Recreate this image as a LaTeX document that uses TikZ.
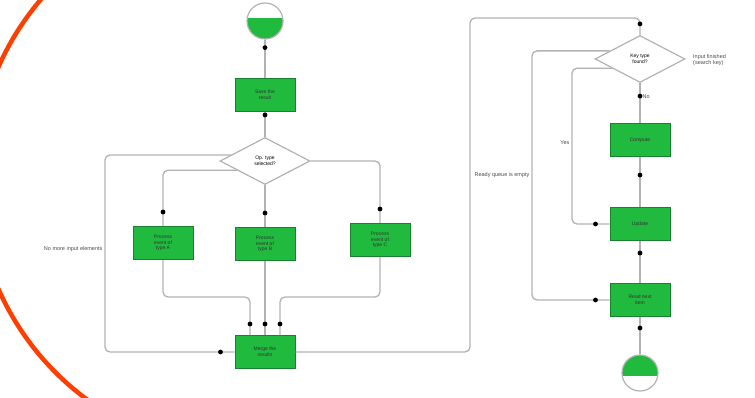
\documentclass[tikz,border=0pt]{standalone}
\usepackage{fontspec}
\setmainfont{Liberation Sans}
\usetikzlibrary{shapes.geometric,decorations.markings}
\definecolor{boxgreen}{RGB}{32,186,62}
\definecolor{boxedge}{RGB}{24,128,46}
\definecolor{linegray}{RGB}{178,178,178}
\definecolor{arcred}{RGB}{255,62,0}
\begin{document}
\begin{tikzpicture}[x=1pt,y=-1pt]
\tikzset{etape/.style={draw=boxedge, fill=boxgreen, line width=1pt, minimum width=60pt, minimum height=33pt, inner sep=1pt, align=center, font=\fontsize{5}{5.6}\selectfont, text=black!80}}
\tikzset{choix/.style={diamond, draw=linegray, fill=white, line width=1.2pt, minimum width=90pt, minimum height=47pt, inner sep=0pt, aspect=1.9, align=center, font=\fontsize{5}{5.6}\selectfont}}
\tikzset{borne/.style={circle, draw=linegray, line width=1.2pt, minimum size=36pt, inner sep=0pt}}
\tikzset{conn/.style={draw=linegray, line width=1.3pt, rounded corners=5pt, postaction={decorate}, decoration={markings, mark=at position -#1 with {\fill[black] circle (2.4pt);}}}, conn/.default=11pt}
\tikzset{lbl/.style={font=\fontsize{5.5}{6.2}\selectfont, text=black!70, inner sep=2pt, align=left}}
\useasboundingbox (0,0) rectangle (755,398);
\begin{scope}
\clip (0,0) rectangle (755,398);
\draw[arcred, line width=4.5pt] (250,178) ++(130:275pt) arc[start angle=130, end angle=240, radius=275pt];
\end{scope}
\node[borne, path picture={\fill[boxgreen] ([yshift=3pt]path picture bounding box.west) rectangle (path picture bounding box.south east);}] (Debut) at (265,21) {};
\node[etape] (Sauver) at (265,95) {Save the\\result};
\node[choix] (ChoixA) at (265,161) {Op. type\\selected?};
\node[etape] (TraitA) at (163,243) {Process\\event of\\type A};
\node[etape] (TraitB) at (265,244) {Process\\event of\\type B};
\node[etape] (TraitC) at (380,240) {Process\\event of\\type C};
\node[etape] (Fusion) at (265,352) {Merge the\\results};
\node[choix] (ChoixB) at (640,59) {Key type\\found?};
\node[etape] (Calcul) at (640,140) {Compute};
\node[etape] (MajRec) at (640,224) {Update};
\node[etape] (Lire) at (640,300) {Read next\\item};
\node[borne, path picture={\fill[boxgreen] (path picture bounding box.north west) rectangle ([yshift=-3pt]path picture bounding box.east);}] (Fin) at (640,373) {};
\node[lbl, anchor=west] (Sortie) at (691,60) {Input finished\\(search key)};
\draw[conn=8pt] (Sauver) -- (Debut);
\draw[conn=3pt] (ChoixA) -- (Sauver);
\draw[conn=14pt] (ChoixA.198) -| (TraitA);
\draw[conn=14pt] (ChoixA) -- (TraitB);
\draw[conn=14pt] (ChoixA.east) -| (TraitC);
\draw[conn=14pt] (ChoixA.170) -| node[lbl, left, pos=0.74] {No more input elements} (105,352) -- (Fusion);
\draw[conn] (TraitA) -- (163,297) -| ([xshift=-15pt]Fusion.north);
\draw[conn] (TraitB) -- (Fusion);
\draw[conn] (TraitC) -- (380,297) -| ([xshift=15pt]Fusion.north);
\draw[conn] (Fusion) -- (470,352) -- (470,18) -| (ChoixB);
\draw[conn=14pt] (ChoixB.165) -| node[lbl, left, pos=0.75] {Ready queue is empty} (532,300) -- (Lire);
\draw[conn=14pt] (ChoixB.198) -| node[lbl, left, pos=0.74] {Yes} (572,224) -- (MajRec);
\draw[conn=13pt] (Calcul) -- node[lbl, right, pos=0.65] {No} (ChoixB);
\draw[conn=18pt] (MajRec) -- (Calcul);
\draw[conn=12pt] (Lire) -- (MajRec);
\draw[conn=11pt] (Fin) -- (Lire);
\end{tikzpicture}
\end{document}
